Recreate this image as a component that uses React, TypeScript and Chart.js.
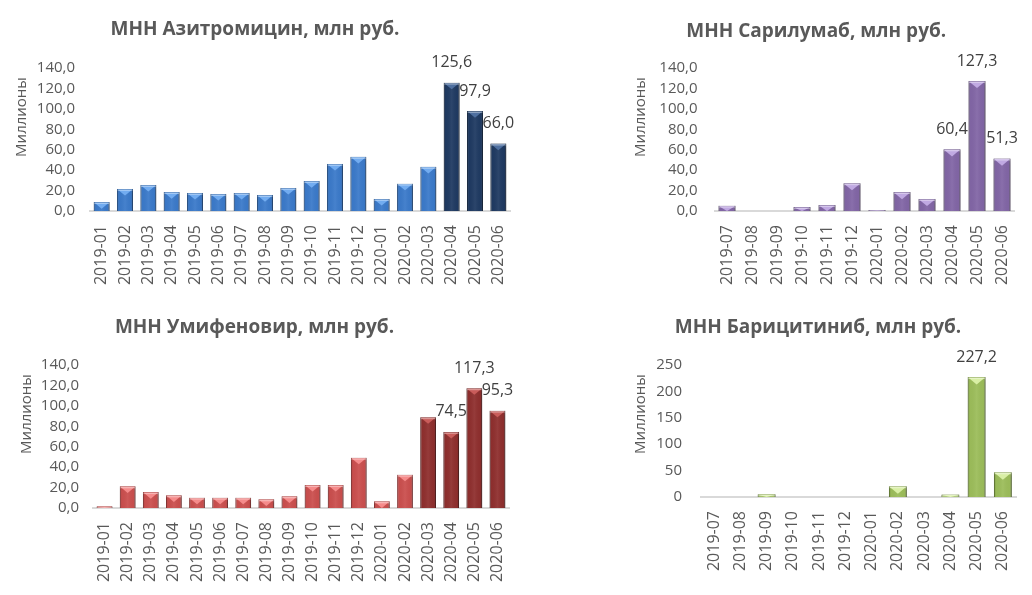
import { useEffect, useRef } from "react";
import { Chart, registerables } from "chart.js";

Chart.register(...registerables);

// ---------- data ----------
const monthsFull = [
  "2019-01", "2019-02", "2019-03", "2019-04", "2019-05", "2019-06",
  "2019-07", "2019-08", "2019-09", "2019-10", "2019-11", "2019-12",
  "2020-01", "2020-02", "2020-03", "2020-04", "2020-05", "2020-06",
];
const monthsShort = [
  "2019-07", "2019-08", "2019-09", "2019-10", "2019-11", "2019-12",
  "2020-01", "2020-02", "2020-03", "2020-04", "2020-05", "2020-06",
];

const azithromycin = [8.8, 21.6, 25.5, 18.6, 17.7, 16.7, 17.7, 15.7, 22.6, 29.4, 46.1, 53.0, 11.8, 26.8, 43.2, 125.6, 97.9, 66.0];
const sarilumab = [5.2, 0, 0, 3.9, 5.9, 27.2, 1.0, 18.6, 11.8, 60.4, 127.3, 51.3];
const umifenovir = [1.6, 21.2, 15.6, 12.4, 10.1, 10.1, 10.1, 8.5, 11.4, 22.5, 22.5, 49.2, 6.5, 32.6, 88.9, 74.5, 117.3, 95.3];
const baricitinib = [0, 0, 5.1, 0, 0, 0, 0, 20.3, 0, 4.5, 227.2, 46.8];

const azithroLabeled = ["2020-04", "2020-05", "2020-06"];
const sariLabeled = ["2020-04", "2020-05", "2020-06"];
const umifLabeled = ["2020-04", "2020-05", "2020-06"];
const bariLabeled = ["2020-05"];

const azithroDark = ["2020-04", "2020-05", "2020-06"];
const umifDark = ["2020-03", "2020-04", "2020-05", "2020-06"];

const yTickMaxPct = 140;
const yTickStepPct = 20;
const bariMax = 250;
const bariStep = 50;

const FONT = "'Open Sans', 'Noto Sans', 'DejaVu Sans', sans-serif";
const TEXT = "#595959";
const LABEL = "#404040";

type Palette = { fill: string; edge: string; hi: string };
const blue: Palette = { fill: "#3b7aca", edge: "#2a5c9c", hi: "#72acf0" };
const navy: Palette = { fill: "#1f3a62", edge: "#152a48", hi: "#4f70a0" };
const redL: Palette = { fill: "#cb4f4e", edge: "#a33b3a", hi: "#f58b8b" };
const redD: Palette = { fill: "#8f2f2e", edge: "#6c2120", hi: "#c95c5a" };
const purple: Palette = { fill: "#8266a6", edge: "#5f4a7d", hi: "#c0a9e2" };
const green: Palette = { fill: "#9cbd5a", edge: "#74913a", hi: "#d9efa5" };

type Box = { left: number; top: number; width: number; height: number };
type Plot = { left: number; right: number; top: number; bottom: number };

type PanelCfg = {
  title: string;
  labels: string[];
  values: number[];
  palettes: Palette[];
  labeled: string[];
  max: number;
  step: number;
  decimals: number;
  box: Box;
  plot: Plot;
  tickPad: number;
  yTitleX: number;
  titlePadTop: number;
};

const fmt = (v: number, d: number) => v.toFixed(d).replace(".", ",");

const bevelPlugin = {
  id: "bevel",
  beforeDatasetsDraw(chart: any) {
    const ctx = chart.ctx;
    ctx.save();
    ctx.shadowColor = "rgba(0,0,0,0.28)";
    ctx.shadowBlur = 4;
    ctx.shadowOffsetX = 1.5;
    ctx.shadowOffsetY = 1;
  },
  afterDatasetsDraw(chart: any) {
    const ctx = chart.ctx;
    ctx.restore();
    const opts = chart.options.plugins.bevel;
    const meta = chart.getDatasetMeta(0);
    meta.data.forEach((el: any, i: number) => {
      const p = el.getProps(["x", "y", "base", "width"], true);
      const w = p.width;
      const left = p.x - w / 2;
      const right = p.x + w / 2;
      const top = Math.min(p.y, p.base);
      const h = Math.abs(p.base - p.y);
      if (h < 0.8) return;
      const pal: Palette = opts.palettes[i];
      ctx.save();
      const g = ctx.createLinearGradient(left, 0, right, 0);
      g.addColorStop(0, "rgba(0,0,0,0.22)");
      g.addColorStop(0.12, "rgba(0,0,0,0.02)");
      g.addColorStop(0.5, "rgba(255,255,255,0.06)");
      g.addColorStop(0.88, "rgba(0,0,0,0.02)");
      g.addColorStop(1, "rgba(0,0,0,0.25)");
      ctx.fillStyle = g;
      ctx.fillRect(left, top, w, h);
      const d = Math.min(w * 0.42, h);
      ctx.fillStyle = pal.hi;
      ctx.beginPath();
      ctx.moveTo(left + 0.5, top + 0.5);
      ctx.lineTo(right - 0.5, top + 0.5);
      ctx.lineTo(p.x, top + d);
      ctx.closePath();
      ctx.fill();
      ctx.fillStyle = "rgba(255,255,255,0.35)";
      ctx.fillRect(left + 0.5, top + 0.5, w - 1, Math.min(1.5, h));
      ctx.restore();
    });
  },
};

const dataLabelPlugin = {
  id: "valueLabels",
  afterDatasetsDraw(chart: any) {
    const opts = chart.options.plugins.valueLabels;
    const ctx = chart.ctx;
    const meta = chart.getDatasetMeta(0);
    const labels: string[] = chart.data.labels;
    const values: number[] = chart.data.datasets[0].data;
    ctx.save();
    ctx.font = `16px ${FONT}`;
    ctx.fillStyle = LABEL;
    ctx.textAlign = "center";
    ctx.textBaseline = "middle";
    meta.data.forEach((el: any, i: number) => {
      if (!opts.labeled.includes(labels[i])) return;
      const p = el.getProps(["x", "y"], true);
      ctx.fillText(fmt(values[i], 1), p.x, p.y - 20);
    });
    ctx.restore();
  },
};

const yTitlePlugin = {
  id: "yTitle",
  afterDraw(chart: any) {
    const opts = chart.options.plugins.yTitle;
    const ctx = chart.ctx;
    ctx.save();
    ctx.font = `15px ${FONT}`;
    ctx.fillStyle = TEXT;
    ctx.textAlign = "center";
    ctx.textBaseline = "middle";
    ctx.translate(opts.x, chart.chartArea.top + 49);
    ctx.rotate(-Math.PI / 2);
    ctx.fillText(opts.text, 0, 0);
    ctx.restore();
  },
};

const X_AXIS_H = 80;

function Panel({ cfg }: { cfg: PanelCfg }) {
  const ref = useRef<HTMLCanvasElement | null>(null);
  useEffect(() => {
    if (!ref.current) return;
    const { box, plot } = cfg;
    const plotTopRel = plot.top - box.top;
    const plotBottomRel = plot.bottom - box.top;
    const chart = new Chart(ref.current, {
      type: "bar",
      data: {
        labels: cfg.labels,
        datasets: [
          {
            data: cfg.values,
            backgroundColor: cfg.palettes.map((p) => p.fill),
            borderColor: cfg.palettes.map((p) => p.edge),
            borderWidth: 1,
            barPercentage: 0.68,
            categoryPercentage: 1,
          },
        ],
      },
      plugins: [bevelPlugin, dataLabelPlugin, yTitlePlugin],
      options: {
        animation: false,
        responsive: false,
        events: [],
        layout: {
          padding: {
            left: 0,
            top: 0,
            right: box.width - (plot.right - box.left),
            bottom: box.height - plotBottomRel - X_AXIS_H,
          },
        },
        plugins: {
          legend: { display: false },
          tooltip: { enabled: false },
          title: {
            display: true,
            text: cfg.title,
            color: TEXT,
            font: { family: FONT, size: 19, weight: "bold", lineHeight: 1.2 },
            padding: { top: cfg.titlePadTop, bottom: plotTopRel - cfg.titlePadTop - 19 * 1.2 },
          },
          bevel: { palettes: cfg.palettes },
          valueLabels: { labeled: cfg.labeled },
          yTitle: { text: "Миллионы", x: cfg.yTitleX - box.left },
        } as any,
        scales: {
          x: {
            grid: { display: false, drawTicks: true, tickLength: 14 },
            border: { display: true, color: "#d9d9d9", width: 2 },
            ticks: {
              autoSkip: false,
              minRotation: 90,
              maxRotation: 90,
              padding: 0,
              color: TEXT,
              font: { family: FONT, size: 16, lineHeight: 1.0 },
            },
            afterFit: (s: any) => {
              s.height = X_AXIS_H;
            },
          },
          y: {
            min: 0,
            max: cfg.max,
            grid: { display: false, drawTicks: false },
            border: { display: false },
            ticks: {
              autoSkip: false,
              stepSize: cfg.step,
              padding: cfg.tickPad,
              color: TEXT,
              font: { family: FONT, size: 15 },
              callback: (v: any) => fmt(Number(v), cfg.decimals),
            },
            afterFit: (s: any) => {
              s.width = plot.left - box.left;
            },
          },
        },
      },
    });
    return () => chart.destroy();
  }, [cfg]);
  return (
    <canvas
      ref={ref}
      width={cfg.box.width}
      height={cfg.box.height}
      style={{
        position: "absolute",
        left: cfg.box.left,
        top: cfg.box.top,
        width: cfg.box.width,
        height: cfg.box.height,
      }}
    />
  );
}

const panels: PanelCfg[] = [
  {
    title: "МНН Азитромицин, млн руб.",
    labels: monthsFull,
    values: azithromycin,
    palettes: monthsFull.map((m) => (azithroDark.includes(m) ? navy : blue)),
    labeled: azithroLabeled,
    max: yTickMaxPct,
    step: yTickStepPct,
    decimals: 1,
    box: { left: 0, top: 0, width: 520, height: 300 },
    plot: { left: 90, right: 510, top: 68, bottom: 211 },
    tickPad: 15,
    yTitleX: 22,
    titlePadTop: 18,
  },
  {
    title: "МНН Сарилумаб, млн руб.",
    labels: monthsShort,
    values: sarilumab,
    palettes: monthsShort.map(() => purple),
    labeled: sariLabeled,
    max: yTickMaxPct,
    step: yTickStepPct,
    decimals: 1,
    box: { left: 618, top: 0, width: 402, height: 300 },
    plot: { left: 714.5, right: 1014.5, top: 68, bottom: 211 },
    tickPad: 17,
    yTitleX: 641,
    titlePadTop: 20,
  },
  {
    title: "МНН Умифеновир, млн руб.",
    labels: monthsFull,
    values: umifenovir,
    palettes: monthsFull.map((m) => (umifDark.includes(m) ? redD : redL)),
    labeled: umifLabeled,
    max: yTickMaxPct,
    step: yTickStepPct,
    decimals: 1,
    box: { left: 0, top: 300, width: 522, height: 295 },
    plot: { left: 93, right: 509, top: 365, bottom: 508 },
    tickPad: 14,
    yTitleX: 27,
    titlePadTop: 16,
  },
  {
    title: "МНН Барицитиниб, млн руб.",
    labels: monthsShort,
    values: baricitinib,
    palettes: monthsShort.map(() => green),
    labeled: bariLabeled,
    max: bariMax,
    step: bariStep,
    decimals: 0,
    box: { left: 620, top: 300, width: 402, height: 295 },
    plot: { left: 701, right: 1016, top: 365, bottom: 497 },
    tickPad: 19,
    yTitleX: 641,
    titlePadTop: 16,
  },
];

export default function App() {
  return (
    <div
      style={{
        position: "absolute",
        left: 0,
        top: 0,
        width: 1032,
        height: 595,
        background: "#ffffff",
        overflow: "hidden",
      }}
    >
      {panels.map((p) => (
        <Panel key={p.title} cfg={p} />
      ))}
    </div>
  );
}
